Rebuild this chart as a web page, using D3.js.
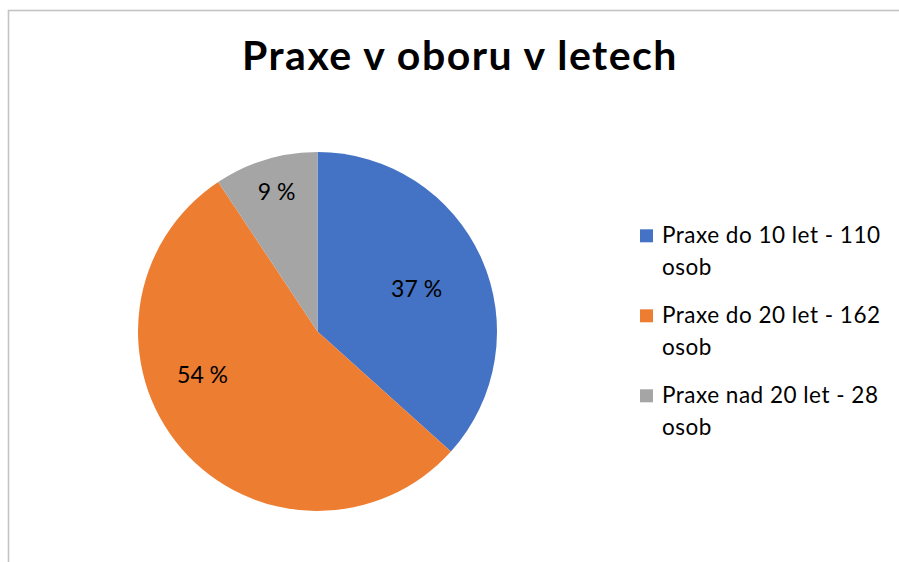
<!DOCTYPE html>
<html>
<head>
<meta charset="utf-8">
<script src="https://cdn.jsdelivr.net/npm/d3@7"></script>
<style>
  html, body { margin: 0; padding: 0; background: #fff; }
  svg { display: block; }
</style>
</head>
<body>
<svg id="chart" width="899" height="562"></svg>
<script>
// ---- data ----
const categories = ["Praxe do 10 let - 110 osob", "Praxe do 20 let - 162 osob", "Praxe nad 20 let - 28 osob"];
const legendLine1 = ["Praxe do 10 let - 110", "Praxe do 20 let - 162", "Praxe nad 20 let - 28"];
const legendLine2 = ["osob", "osob", "osob"];
const values = [110, 162, 28];
const percentLabels = ["37 %", "54 %", "9 %"];
const title = "Praxe v oboru v letech";

// ---- styling / layout ----
const colors = ["#4472C4", "#ED7D31", "#A5A5A5"];
// label placement: fraction along slice angle, fraction of radius
const labelAlong = [0.507, 0.603, 0.515];
const labelRadius = [0.60, 0.685, 0.81];
const FONT = "Lato, Carlito, Calibri, 'Open Sans', sans-serif";

const svg = d3.select("#chart");

// chart frame (partially visible)
svg.append("rect")
  .attr("x", 8.5).attr("y", 10.5)
  .attr("width", 1000).attr("height", 1000)
  .attr("fill", "none").attr("stroke", "#c4c4c4").attr("stroke-width", 1.6);

// title
svg.append("text")
  .attr("x", 460).attr("y", 70)
  .attr("text-anchor", "middle")
  .attr("font-family", FONT).attr("font-weight", 700)
  .attr("font-size", 41).attr("letter-spacing", "1.5px").attr("fill", "#000")
  .text(title);

// pie
const cx = 317.5, cy = 331.5, R = 179.5;
const pie = d3.pie().sort(null).value(d => d)
  .startAngle(0).endAngle(2 * Math.PI);
const arcs = pie(values);
const arc = d3.arc().innerRadius(0).outerRadius(R);

const g = svg.append("g").attr("transform", `translate(${cx},${cy})`);
g.selectAll("path.slice").data(arcs).enter().append("path")
  .attr("class", "slice")
  .attr("d", arc)
  .attr("fill", (d, i) => colors[i]);

g.selectAll("text.pct").data(arcs).enter().append("text")
  .attr("class", "pct")
  .attr("transform", (d, i) => {
    const a = d.startAngle + (d.endAngle - d.startAngle) * labelAlong[i];
    const r = R * labelRadius[i];
    return `translate(${r * Math.sin(a)},${-r * Math.cos(a)})`;
  })
  .attr("text-anchor", "middle")
  .attr("dy", "0.35em")
  .attr("font-family", FONT).attr("font-size", 23).attr("fill", "#000")
  .text((d, i) => percentLabels[i]);

// legend
const legend = svg.append("g");
const lx = 640, ly0 = 243.3, itemGap = 80, lineGap = 32;
categories.forEach((c, i) => {
  const y = ly0 + i * itemGap;
  legend.append("rect")
    .attr("x", lx).attr("y", y - 14).attr("width", 13).attr("height", 13)
    .attr("fill", colors[i]);
  const t = legend.append("text")
    .attr("x", lx + 22).attr("y", y)
    .attr("font-family", FONT).attr("font-size", 22.5)
    .attr("letter-spacing", "0.5px").attr("fill", "#000");
  t.append("tspan").attr("x", lx + 22).attr("y", y).text(legendLine1[i]);
  t.append("tspan").attr("x", lx + 22).attr("y", y + lineGap).text(legendLine2[i]);
});
</script>
</body>
</html>
